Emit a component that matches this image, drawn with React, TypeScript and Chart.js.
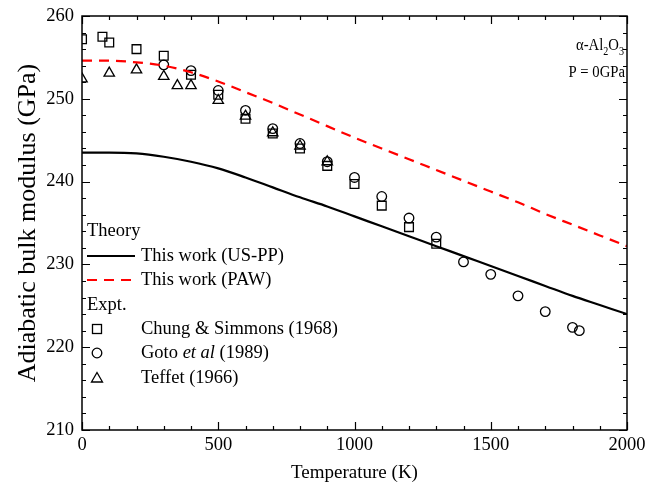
import React, { useEffect, useRef } from "react";
import { Chart, registerables } from "chart.js";

Chart.register(...registerables);

// ---- data ----
const lineTemps = [0, 100, 200, 300, 400, 500, 600, 700, 800, 900, 1000, 1100, 1200, 1300, 1400, 1500, 1600, 1700, 1800, 1900, 2000];
const usppValues = [243.5, 243.5, 243.4, 243.0, 242.4, 241.6, 240.5, 239.3, 238.1, 237.0, 235.8, 234.6, 233.4, 232.2, 231.0, 229.8, 228.6, 227.4, 226.2, 225.1, 224.0];
const pawValues = [254.6, 254.6, 254.4, 254.0, 253.2, 252.1, 250.8, 249.5, 248.1, 246.7, 245.3, 244.0, 242.7, 241.4, 240.1, 238.8, 237.5, 236.1, 234.8, 233.5, 232.2];

const chungTemps = [0, 75, 100, 200, 300, 400, 500, 600, 700, 800, 900, 1000, 1100, 1200, 1300];
const chungValues = [257.2, 257.5, 256.8, 256.0, 255.2, 252.9, 250.5, 247.6, 245.8, 244.0, 241.9, 239.7, 237.1, 234.5, 232.5];

const gotoTemps = [300, 400, 500, 600, 700, 800, 900, 1000, 1100, 1200, 1300, 1400, 1500, 1600, 1700, 1800, 1825];
const gotoValues = [254.1, 253.4, 251.0, 248.6, 246.4, 244.6, 242.4, 240.5, 238.2, 235.6, 233.3, 230.3, 228.8, 226.2, 224.3, 222.4, 222.0];

const teffetTemps = [0, 100, 200, 300, 350, 400, 500, 600, 700, 800, 900];
const teffetValues = [252.4, 253.1, 253.5, 252.7, 251.6, 251.6, 249.8, 247.9, 245.9, 244.3, 242.4];

const xTickMajor = [0, 500, 1000, 1500, 2000];
const yTickMajor = [210, 220, 230, 240, 250, 260];

const legendLabels = {
  theory: "Theory",
  uspp: "This work (US-PP)",
  paw: "This work (PAW)",
  expt: "Expt.",
  chung: "Chung & Simmons (1968)",
  gotoA: "Goto ",
  gotoB: "et al",
  gotoC: " (1989)",
  teffet: "Teffet (1966)",
};

const SERIF = '"Liberation Serif", "Times New Roman", serif';

function pts(xs: number[], ys: number[]) {
  return xs.map((x, i) => ({ x, y: ys[i] }));
}

const framePlugin = {
  id: "frameTicks",
  afterDatasetsDraw(chart: any) {
    const { ctx, chartArea: a, scales } = chart;
    const xs = scales.x;
    const ys = scales.y;
    ctx.save();
    ctx.strokeStyle = "#000";
    ctx.lineWidth = 1.5;
    ctx.strokeRect(a.left, a.top, a.right - a.left, a.bottom - a.top);
    ctx.lineWidth = 1.2;
    ctx.beginPath();
    for (let v = 0; v <= 2000; v += 100) {
      const px = Math.round(xs.getPixelForValue(v)) + 0.5;
      const len = v % 500 === 0 ? 8 : 4;
      ctx.moveTo(px, a.bottom);
      ctx.lineTo(px, a.bottom - len);
      ctx.moveTo(px, a.top);
      ctx.lineTo(px, a.top + len);
    }
    for (let v = 210; v <= 260; v += 2) {
      const py = Math.round(ys.getPixelForValue(v)) + 0.5;
      const len = v % 10 === 0 ? 8 : 4;
      ctx.moveTo(a.left, py);
      ctx.lineTo(a.left + len, py);
      ctx.moveTo(a.right, py);
      ctx.lineTo(a.right - len, py);
    }
    ctx.stroke();
    ctx.restore();
  },
  afterDraw(chart: any) {
    const { ctx, chartArea: a } = chart;
    ctx.save();
    ctx.fillStyle = "#000";
    ctx.strokeStyle = "#000";
    ctx.textBaseline = "middle";
    ctx.textAlign = "left";
    const f = `18.5px ${SERIF}`;
    ctx.font = f;
    const lx = a.left + 5;
    const tx = a.left + 59;
    const rows = [231, 256, 280, 305, 329, 353, 378];
    ctx.fillText(legendLabels.theory, lx, rows[0]);
    // US-PP line
    ctx.lineWidth = 2.2;
    ctx.beginPath();
    ctx.moveTo(lx, rows[1]);
    ctx.lineTo(lx + 48, rows[1]);
    ctx.stroke();
    ctx.fillText(legendLabels.uspp, tx, rows[1]);
    // PAW line
    ctx.strokeStyle = "#ff0000";
    ctx.setLineDash([10, 7]);
    ctx.beginPath();
    ctx.moveTo(lx, rows[2]);
    ctx.lineTo(lx + 48, rows[2]);
    ctx.stroke();
    ctx.setLineDash([]);
    ctx.fillText(legendLabels.paw, tx, rows[2]);
    ctx.fillText(legendLabels.expt, lx, rows[3]);
    // markers
    ctx.strokeStyle = "#000";
    ctx.lineWidth = 1.3;
    const mx = a.left + 15;
    ctx.strokeRect(mx - 4.5, rows[4] - 4.5, 9, 9);
    ctx.fillText(legendLabels.chung, tx, rows[4]);
    ctx.beginPath();
    ctx.arc(mx, rows[5], 4.8, 0, Math.PI * 2);
    ctx.stroke();
    let x = tx;
    ctx.fillText(legendLabels.gotoA, x, rows[5]);
    x += ctx.measureText(legendLabels.gotoA).width;
    ctx.font = `italic 18.5px ${SERIF}`;
    ctx.fillText(legendLabels.gotoB, x, rows[5]);
    x += ctx.measureText(legendLabels.gotoB).width;
    ctx.font = f;
    ctx.fillText(legendLabels.gotoC, x, rows[5]);
    ctx.beginPath();
    ctx.moveTo(mx, rows[6] - 5.5);
    ctx.lineTo(mx + 5.5, rows[6] + 4);
    ctx.lineTo(mx - 5.5, rows[6] + 4);
    ctx.closePath();
    ctx.stroke();
    ctx.fillText(legendLabels.teffet, tx, rows[6]);

    // annotation: alpha-Al2O3, P = 0GPa (slightly condensed text)
    ctx.textAlign = "left";
    ctx.textBaseline = "alphabetic";
    const sx = 0.84;
    const big = `17.5px ${SERIF}`;
    const small = `12px ${SERIF}`;
    const parts: [string, string, number][] = [
      ["α-Al", big, 0],
      ["2", small, 5],
      ["O", big, 0],
      ["3", small, 5],
    ];
    let total = 0;
    for (const [t, fo] of parts) {
      ctx.font = fo;
      total += ctx.measureText(t).width;
    }
    const rightEdge = a.right - 3;
    ctx.save();
    ctx.translate(rightEdge, 0);
    ctx.scale(sx, 1);
    let ax = -total;
    const base1 = a.top + 34;
    for (const [t, fo, dy] of parts) {
      ctx.font = fo;
      ctx.fillText(t, ax, base1 + dy);
      ax += ctx.measureText(t).width;
    }
    ctx.restore();
    ctx.save();
    ctx.translate(a.right - 2, 0);
    ctx.scale(sx, 1);
    ctx.font = `17.5px ${SERIF}`;
    ctx.textAlign = "right";
    ctx.fillText("P = 0GPa", 0, a.top + 61);
    ctx.restore();
    ctx.restore();
  },
};

export default function App() {
  const ref = useRef<HTMLCanvasElement | null>(null);
  useEffect(() => {
    if (!ref.current) return;
    const markerCommon = {
      showLine: false,
      borderColor: "#000",
      backgroundColor: "rgba(0,0,0,0)",
      pointBorderWidth: 1.3,
    };
    const chart = new Chart(ref.current, {
      type: "scatter",
      data: {
        datasets: [
          {
            label: "US-PP",
            data: pts(lineTemps, usppValues),
            showLine: true,
            borderColor: "#000",
            borderWidth: 2.2,
            pointRadius: 0,
            cubicInterpolationMode: "monotone",
            fill: false,
          },
          {
            label: "PAW",
            data: pts(lineTemps, pawValues),
            showLine: true,
            borderColor: "#ff0000",
            borderWidth: 2.2,
            borderDash: [10, 7],
            pointRadius: 0,
            cubicInterpolationMode: "monotone",
            fill: false,
          },
          {
            label: "Chung",
            data: pts(chungTemps, chungValues),
            pointStyle: "rect",
            pointRadius: 6.2,
            ...markerCommon,
          },
          {
            label: "Goto",
            data: pts(gotoTemps, gotoValues),
            pointStyle: "circle",
            pointRadius: 4.8,
            ...markerCommon,
          },
          {
            label: "Teffet",
            data: pts(teffetTemps, teffetValues),
            pointStyle: "triangle",
            pointRadius: 6,
            ...markerCommon,
          },
        ],
      },
      options: {
        animation: false,
        responsive: false,
        devicePixelRatio: 1,
        layout: { padding: { top: 16, right: 18, left: 0, bottom: 0 } },
        plugins: { legend: { display: false }, tooltip: { enabled: false } },
        scales: {
          x: {
            type: "linear",
            min: 0,
            max: 2000,
            afterBuildTicks: (s: any) => {
              s.ticks = xTickMajor.map((v) => ({ value: v }));
            },
            afterFit: (s: any) => {
              s.height = 60;
              s.paddingLeft = 0;
              s.paddingRight = 0;
            },
            ticks: {
              color: "#000",
              font: { family: SERIF, size: 18.5 },
              padding: 4,
              maxRotation: 0,
              autoSkip: false,
              callback: (v: any) => String(v),
            },
            grid: { display: false, drawTicks: false },
            border: { display: false },
            title: {
              display: true,
              text: "Temperature (K)",
              color: "#000",
              font: { family: SERIF, size: 19 },
              padding: { top: 0, bottom: 6 },
            },
          },
          y: {
            type: "linear",
            min: 210,
            max: 260,
            afterBuildTicks: (s: any) => {
              s.ticks = yTickMajor.map((v) => ({ value: v }));
            },
            afterFit: (s: any) => {
              s.width = 82;
              s.paddingTop = 0;
              s.paddingBottom = 0;
            },
            ticks: {
              color: "#000",
              font: { family: SERIF, size: 18.5 },
              padding: 8,
              autoSkip: false,
              callback: (v: any) => String(v),
            },
            grid: { display: false, drawTicks: false },
            border: { display: false },
            title: {
              display: true,
              text: "Adiabatic bulk modulus (GPa)",
              color: "#000",
              font: { family: SERIF, size: 26 },
              padding: { top: 13, bottom: 0 },
            },
          },
        },
      },
      plugins: [framePlugin],
    } as any);
    return () => chart.destroy();
  }, []);
  return (
    <div style={{ position: "fixed", left: 0, top: 0, width: 645, height: 490, background: "#fff" }}>
      <canvas ref={ref} width={645} height={490} style={{ width: 645, height: 490, display: "block" }} />
    </div>
  );
}
